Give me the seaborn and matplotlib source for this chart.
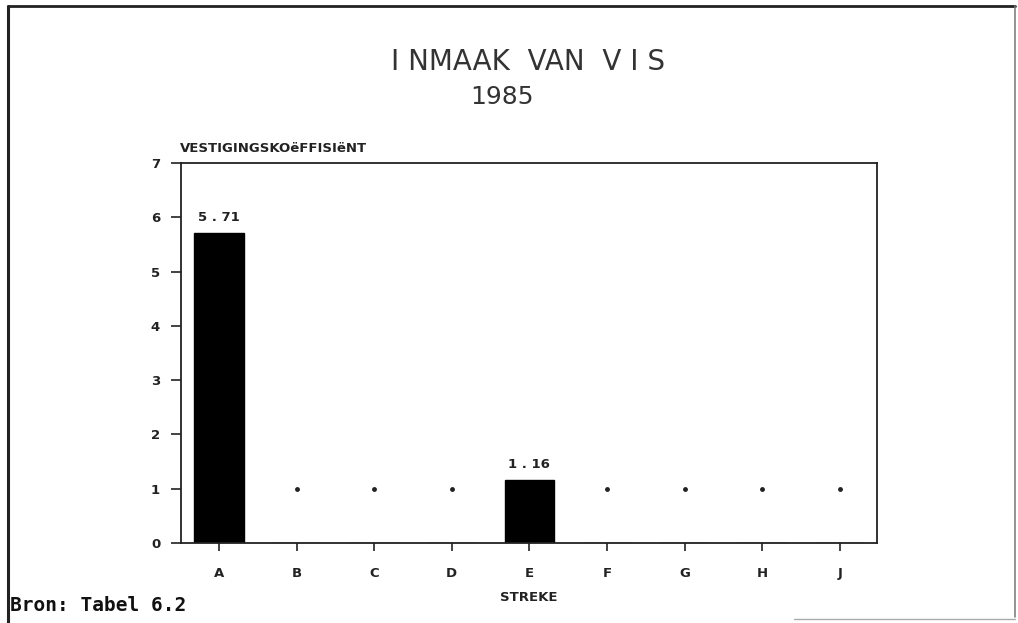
import matplotlib
matplotlib.use('Agg')
import matplotlib.pyplot as plt
from matplotlib.lines import Line2D
import seaborn as sns
import pandas as pd

# data
streke = ['A', 'B', 'C', 'D', 'E', 'F', 'G', 'H', 'J']
koeffisient = [5.71, 0, 0, 0, 1.16, 0, 0, 0, 0]
verwys = [1, 1, 1, 1, 1, 1, 1, 1, 1]
y_ticks = [0, 1, 2, 3, 4, 5, 6, 7]

df = pd.DataFrame({'streek': streke, 'waarde': koeffisient, 'verwys': verwys})

sns.set_style('white')
plt.rcParams['font.family'] = ['DejaVu Sans']

fig = plt.figure(figsize=(10.18, 6.23), dpi=100)
ax = fig.add_axes([0.1778, 0.1284, 0.6837, 0.61])

# reference dots at 1, drawn behind the bars
sns.stripplot(data=df, x='streek', y='verwys', order=streke, jitter=False,
              color='#222222', size=3.5, ax=ax, zorder=1)
sns.barplot(data=df, x='streek', y='waarde', order=streke, color='black',
            edgecolor='black', width=0.64, saturation=1, ax=ax, zorder=2)

for i, v in enumerate(koeffisient):
    if v > 0:
        ax.text(i, v + 0.17, f'{v:.2f}'.replace('.', ' . '), ha='center', va='bottom',
                fontsize=9.5, fontweight='bold', color='#222222')

ax.set_xlim(-0.49, 8.48)
ax.set_ylim(0, 7)
ax.set_yticks(y_ticks)
ax.tick_params(axis='y', direction='out', length=7, width=1.2, pad=8,
               labelsize=9.5, left=True, colors='#222222')
ax.tick_params(axis='x', direction='out', length=6, width=1.2, pad=11,
               labelsize=9.5, bottom=True, colors='#222222')
for lab in ax.get_xticklabels() + ax.get_yticklabels():
    lab.set_fontweight('bold')
for s in ax.spines.values():
    s.set_visible(True)
    s.set_color('#222222')
    s.set_linewidth(1.3)

ax.set_xlabel('STREKE', fontsize=9.5, fontweight='bold', color='#222222', labelpad=8)
ax.set_ylabel('')
fig.text(0.1768, 0.752, 'VESTIGINGSKOëFFISIëNT', fontsize=9.5, fontweight='bold',
         color='#222222', ha='left', va='bottom')

fig.text(0.519, 0.9, 'I NMAAK  VAN  V I S', fontsize=20, ha='center', va='center',
         color='#333333')
fig.text(0.493, 0.845, '1985', fontsize=18, ha='center', va='center', color='#333333')

fig.text(0.01, 0.028, 'Bron: Tabel 6.2', fontsize=14, family='DejaVu Sans Mono',
         fontweight='bold', ha='left', va='center', color='#111111')

# page frame
for xs, ys, c, w in [([0.008, 0.008], [0.0, 0.99], '#222222', 2.2),
                     ([0.008, 0.997], [0.99, 0.99], '#222222', 2),
                     ([0.997, 0.997], [0.99, 0.01], '#777777', 1.1),
                     ([0.78, 0.997], [0.006, 0.006], '#aaaaaa', 1)]:
    fig.add_artist(Line2D(xs, ys, transform=fig.transFigure, color=c, lw=w))

fig.savefig('out.png', dpi=100)
